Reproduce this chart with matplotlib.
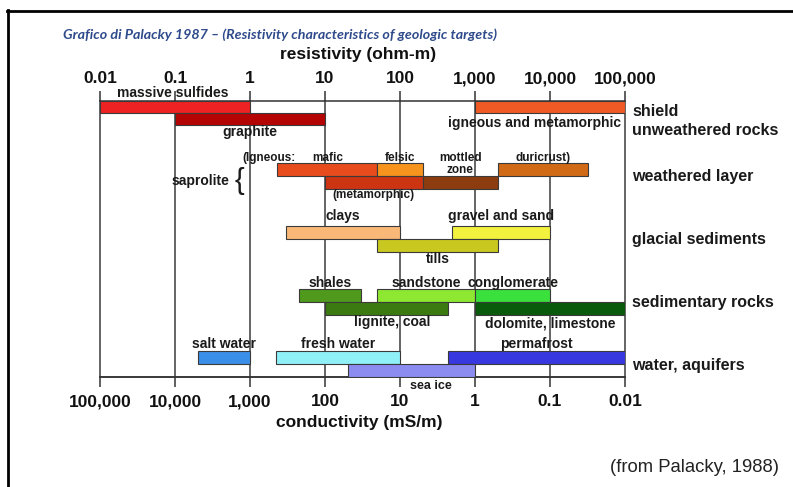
import numpy as np
import matplotlib
matplotlib.use('Agg')
import matplotlib.pyplot as plt
from matplotlib.lines import Line2D
from matplotlib.ticker import NullLocator
from matplotlib.transforms import offset_copy

# ---------------- data (resistivity ranges, ohm-m) ----------------
materials = ['massive sulfides', 'graphite', 'igneous and metamorphic',
             'mafic', 'felsic', 'duricrust)', '(metamorphic)', 'mottled\nzone',
             'clays', 'gravel and sand', 'tills',
             'shales', 'sandstone', 'conglomerate', 'lignite, coal',
             'dolomite, limestone',
             'salt water', 'fresh water', 'permafrost', 'sea ice']
res_low = [0.01, 0.1, 1000,
           2.3, 50, 2000, 10, 200,
           3, 500, 50,
           4.5, 50, 1000, 10, 1000,
           0.2, 2.2, 430, 20]
res_high = [1, 10, 100000,
            50, 200, 32000, 200, 2000,
            100, 10000, 2000,
            30, 1000, 10000, 430, 100000,
            1, 100, 100000, 1000]
res_ticks = [0.01, 0.1, 1, 10, 100, 1000, 10000, 100000]
res_tick_labels = ['0.01', '0.1', '1', '10', '100', '1,000', '10,000', '100,000']
cond_ticks = [100000, 10000, 1000, 100, 10, 1, 0.1, 0.01]
cond_tick_labels = ['100,000', '10,000', '1,000', '100', '10', '1', '0.1', '0.01']
group_labels = ['shield', 'unweathered rocks', 'weathered layer',
                'glacial sediments', 'sedimentary rocks', 'water, aquifers']

# ---------------- layout / style ----------------
W, H = 793, 487
row_center = [107, 119, 107,
              169.5, 169.5, 169.5, 182.5, 182.5,
              232.5, 232.5, 245.5,
              295.5, 295.5, 295.5, 308.5, 308.5,
              357.5, 357.5, 357.5, 370.5]
row_h = [12, 12, 12] + [12.8] * 17
colors = ['#ee2222', '#b50404', '#f05a24',
          '#e84c1c', '#f7941e', '#d06a16', '#cc3412', '#8c3c0e',
          '#f9b878', '#f2f23e', '#c8c820',
          '#4f9a1c', '#8ee832', '#3ae03c', '#3a7a10', '#0a5a0c',
          '#3a90e8', '#90f0f8', '#3838e0', '#8c8cf0']
label_base = [97, 136, 127,
              161, 161, 161, 198, 161,
              220, 220, 263,
              287, 287, 287, 326, 327,
              348, 348, 348, 389]
label_dx = [-2, 0, -15, 0, 0, 0, 0, 0, 0, 0, 0, 0, 0, 0, 6, 0, 0, 0, 0, 20]
label_size = [10, 10, 10, 8.5, 8.5, 8.5, 8.5, 8.5, 10, 10, 10,
              10, 10, 10, 10, 10, 10, 10, 10, 9]
group_base = [116, 135, 181, 244, 307, 370]

FONT = ['Liberation Sans', 'DejaVu Sans']
plt.rcParams['font.family'] = FONT

fig = plt.figure(figsize=(W / 100, H / 100), dpi=100)
fig.patch.set_facecolor('white')


def fx(px):
    return px / W


def fy(py):
    return 1 - py / H


ax = fig.add_axes([fx(100), fy(377), (625 - 100) / W, (377 - 101) / H])
ax.set_xscale('log')
ax.set_xlim(0.01, 100000)
ax.set_ylim(377, 101)
ax.set_yticks([])
ax.set_facecolor('none')

# bars
for lo, hi, yc, h, c in zip(res_low, res_high, row_center, row_h, colors):
    ax.barh(yc, hi - lo, left=lo, height=h, color=c,
            edgecolor='#3a3a3a', linewidth=0.8, zorder=3)

# bar labels
for name, lo, hi, yb, dx, fs in zip(materials, res_low, res_high,
                                     label_base, label_dx, label_size):
    xm = np.sqrt(lo * hi)
    tr = offset_copy(ax.transData, fig=fig, x=dx * 0.72, y=0, units='points')
    for i, line in enumerate(name.split('\n')):
        ax.text(xm, yb + i * 12, line, transform=tr, ha='center',
                va='baseline', fontsize=fs, fontweight='bold',
                color='#1a1a1a', zorder=5)

# grid & spines
ax.set_axisbelow(True)
ax.grid(axis='x', which='major', color='#3a3a3a', linewidth=1.1)
for gl in ax.get_xgridlines():
    gl.set_clip_on(False)
for s in ['left', 'right']:
    ax.spines[s].set_visible(False)
for s in ['top', 'bottom']:
    ax.spines[s].set_color('#333333')
    ax.spines[s].set_linewidth(1.1)

# top axis: resistivity
ax.xaxis.set_minor_locator(NullLocator())
ax.set_xticks(res_ticks)
ax.set_xticklabels(res_tick_labels, fontweight='bold', fontsize=12.5)
ax.tick_params(axis='x', which='major', top=True, bottom=False,
               labeltop=True, labelbottom=False, length=7.5, width=1.1,
               color='#333333', pad=3, labelcolor='#111111')

# bottom axis: conductivity (mS/m) = 1000 / resistivity
def inv(x):
    x = np.asarray(x, dtype=float)
    with np.errstate(divide='ignore'):
        return 1000.0 / x


sec = ax.secondary_xaxis('bottom', functions=(inv, inv))
sec.xaxis.set_minor_locator(NullLocator())
sec.set_xticks(cond_ticks)
sec.set_xticklabels(cond_tick_labels, fontweight='bold', fontsize=12.5)
sec.tick_params(axis='x', which='major', length=7.5, width=1.1,
                color='#333333', pad=5, labelcolor='#111111')
sec.spines['bottom'].set_color('#333333')
sec.spines['bottom'].set_linewidth(1.1)

# axis titles
fig.text(fx(358), fy(55), 'resistivity (ohm-m)', ha='center', va='center',
         fontsize=12.5, fontweight='bold', color='#111111')
fig.text(fx(359), fy(422), 'conductivity (mS/m)', ha='center', va='center',
         fontsize=12.5, fontweight='bold', color='#111111')

# group labels on right
for g, yb in zip(group_labels, group_base):
    fig.text(fx(632), fy(yb), g, ha='left', va='baseline', fontsize=11.5,
             fontweight='bold', color='#1a1a1a')

# saprolite annotation
fig.text(fx(172), fy(185), 'saprolite', ha='left', va='baseline',
         fontsize=10, fontweight='bold', color='#1a1a1a')
fig.text(fx(239), fy(181), '{', ha='center', va='center', fontsize=21,
         color='#1a1a1a')
fig.text(fx(242), fy(161), '(Igneous:', ha='left', va='baseline',
         fontsize=8.5, fontweight='bold', color='#1a1a1a')

# title
fig.text(fx(63), fy(39), 'Grafico di Palacky 1987 \u2013 (Resistivity characteristics of geologic targets)',
         ha='left', va='baseline', fontsize=10.3, fontweight='bold',
         fontstyle='italic', color='#2f4b8c', family=['Lato', 'DejaVu Sans'])

# source
fig.text(fx(610), fy(472), '(from Palacky, 1988)', ha='left', va='baseline',
         fontsize=13.3, color='#222222', family=['Liberation Sans', 'DejaVu Sans'])

# page border
fig.add_artist(Line2D([fx(8), fx(8)], [0, fy(10)], transform=fig.transFigure,
                      color='black', linewidth=2))
fig.add_artist(Line2D([fx(7), 1], [fy(11), fy(11)], transform=fig.transFigure,
                      color='black', linewidth=2))

fig.savefig('out.png', dpi=100, facecolor='white')
